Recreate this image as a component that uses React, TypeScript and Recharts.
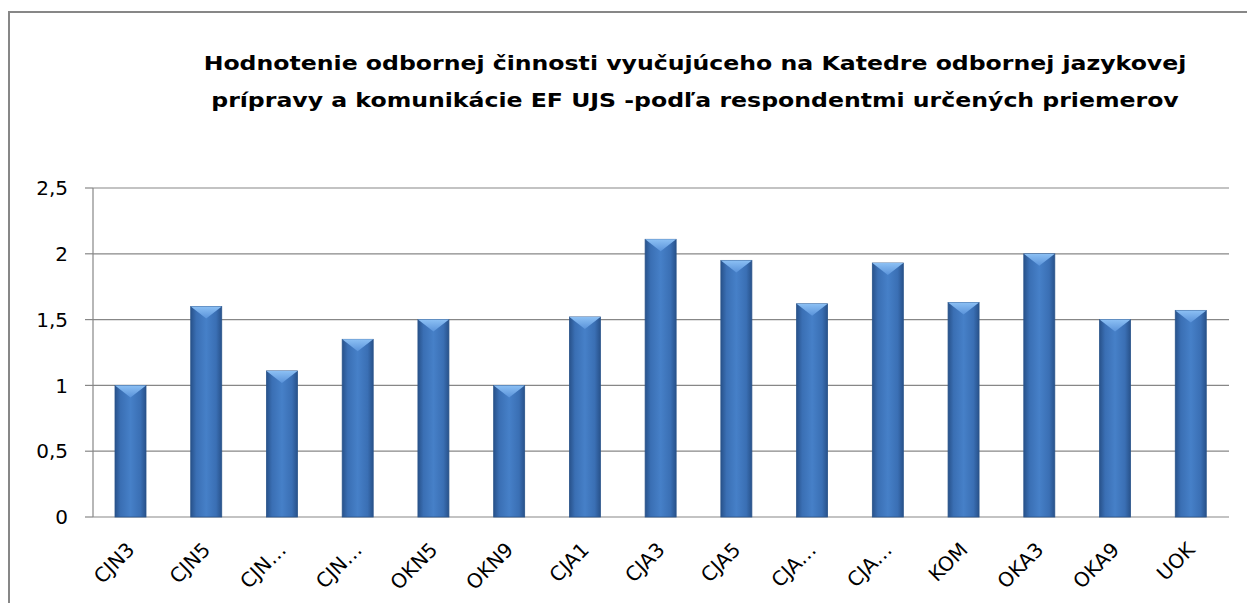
import React from 'react';
import { BarChart, Bar, XAxis, YAxis, CartesianGrid } from 'recharts';

const categories = ['CJN3', 'CJN5', 'CJN…', 'CJN…', 'OKN5', 'OKN9', 'CJA1', 'CJA3', 'CJA5', 'CJA…', 'CJA…', 'KOM', 'OKA3', 'OKA9', 'UOK'];
const averages = [1.0, 1.6, 1.11, 1.35, 1.5, 1.0, 1.52, 2.11, 1.95, 1.62, 1.93, 1.63, 2.0, 1.5, 1.57];
const yTicks = [0, 0.5, 1, 1.5, 2, 2.5];
const titleLines = [
  'Hodnotenie odbornej činnosti vyučujúceho na Katedre odbornej jazykovej',
  'prípravy a komunikácie EF UJS -podľa respondentmi určených priemerov',
];

const data = categories.map((name, i) => ({ name, value: averages[i] }));
const edgeTicks = [...categories.map((_, i) => i), categories.length];

const FONT = '"DejaVu Sans", sans-serif';
const GRAY = '#878787';

// Excel-style bevelled column
function BevelBar(props: any) {
  const { x, y, width, height } = props;
  if (!height || height <= 0) return null;
  const d = Math.min(12, height);
  return (
    <g>
      <rect x={x} y={y} width={width} height={height} fill="url(#barBody)" stroke="#2a548a" strokeWidth={0.8} />
      <polygon points={`${x},${y} ${x + width},${y} ${x + width / 2},${y + d}`} fill="url(#barTop)" />
    </g>
  );
}

function XTick(props: any) {
  const { x, y, payload } = props;
  return (
    <g transform={`translate(${x + 5},${y + 34})`}>
      <text x={0} y={0} textAnchor="end" transform="rotate(-45)" fontSize={20} fontFamily={FONT} fill="#000">
        {payload.value}
      </text>
    </g>
  );
}

export default function App() {
  return (
    <div style={{ position: 'fixed', left: 0, top: 0, width: 1247, height: 603, overflow: 'hidden', background: '#fff' }}>
      <div
        style={{
          position: 'absolute',
          left: 8,
          top: 11,
          width: 1400,
          height: 800,
          borderTop: `2px solid ${GRAY}`,
          borderLeft: `2px solid ${GRAY}`,
        }}
      />
      <svg width={1247} height={130} style={{ position: 'absolute', left: 0, top: 0 }}>
        <g transform="translate(695,0) scale(1.18,1)">
          {titleLines.map((line, i) => (
            <text key={i} x={0} y={70 + i * 37} textAnchor="middle" fontSize={20} fontWeight="bold" fontFamily={FONT} fill="#000">
              {line}
            </text>
          ))}
        </g>
      </svg>
      <div style={{ position: 'absolute', left: 0, top: 0 }}>
        <BarChart width={1247} height={603} data={data} margin={{ top: 188, right: 18, bottom: 0, left: 0 }}>
          <defs>
            <linearGradient id="barBody" x1="0" y1="0" x2="1" y2="0">
              <stop offset="0%" stopColor="#28528b" />
              <stop offset="18%" stopColor="#3a6fb4" />
              <stop offset="50%" stopColor="#4680c8" />
              <stop offset="82%" stopColor="#3a6fb4" />
              <stop offset="100%" stopColor="#28528b" />
            </linearGradient>
            <linearGradient id="barTop" x1="0" y1="0" x2="0" y2="1">
              <stop offset="0%" stopColor="#8cc0f4" />
              <stop offset="100%" stopColor="#5a93da" />
            </linearGradient>
          </defs>
          <CartesianGrid vertical={false} stroke={GRAY} strokeWidth={1.2} />
          <XAxis
            xAxisId="edges"
            type="number"
            domain={[0, categories.length]}
            allowDataOverflow
            ticks={edgeTicks}
            tick={false}
            tickSize={8}
            tickLine={{ stroke: GRAY, strokeWidth: 1.2 }}
            axisLine={{ stroke: GRAY, strokeWidth: 1.2 }}
            height={0}
          />
          <XAxis
            xAxisId="cat"
            dataKey="name"
            axisLine={false}
            tickLine={false}
            tickSize={0}
            tickMargin={0}
            interval={0}
            height={86}
            tick={<XTick />}
          />
          <YAxis
            domain={[0, 2.5]}
            ticks={yTicks}
            width={93}
            tickSize={8}
            tickMargin={17}
            tickLine={{ stroke: GRAY, strokeWidth: 1.2 }}
            axisLine={{ stroke: GRAY, strokeWidth: 1.2 }}
            tick={{ fontSize: 20, fontFamily: FONT, fill: '#000' }}
            tickFormatter={(v: number) => String(v).replace('.', ',')}
          />
          <Bar xAxisId="cat" dataKey="value" barSize={31} shape={<BevelBar />} isAnimationActive={false} />
        </BarChart>
      </div>
    </div>
  );
}
